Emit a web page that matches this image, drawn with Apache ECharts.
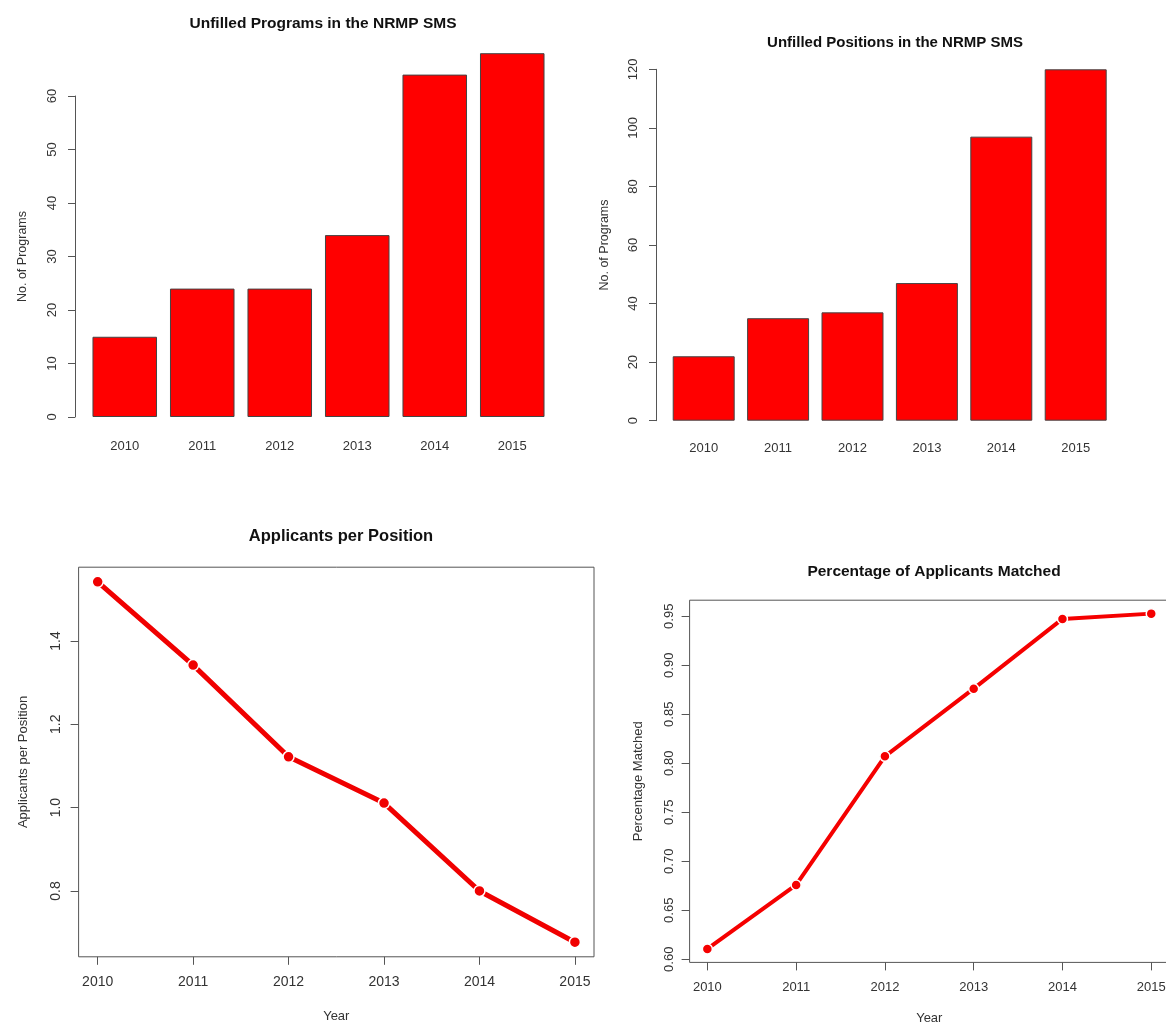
<!DOCTYPE html>
<html>
<head>
<meta charset="utf-8">
<script src="https://cdn.jsdelivr.net/npm/echarts@6/dist/echarts.min.js"></script>
<style>
  html, body { margin: 0; padding: 0; background: #fff; }
  #chart { width: 1166px; height: 1022px; }
</style>
</head>
<body>
<div id="chart"></div>
<script>
// ---- data ----
const yearLabels = ['2010', '2011', '2012', '2013', '2014', '2015'];
const yearNums = [2010, 2011, 2012, 2013, 2014, 2015];
const unfilledPrograms = [15, 24, 24, 34, 64, 68];
const unfilledPositions = [22, 35, 37, 47, 97, 120];
const applicantsPerPosition = [1.542, 1.342, 1.122, 1.011, 0.800, 0.677];
const pctMatched = [0.6105, 0.6758, 0.8071, 0.8761, 0.9473, 0.9527];
const appTicks = [0.8, 1.0, 1.2, 1.4];
const pctTicks = [0.60, 0.65, 0.70, 0.75, 0.80, 0.85, 0.90, 0.95];

const FONT = 'Liberation Sans, Arial, sans-serif';
const AX = '#555';
const LBL = '#333';

function pairs(xs, ys) { return xs.map((x, i) => [x, ys[i]]); }

const chart = echarts.init(document.getElementById('chart'), null, { renderer: 'canvas' });

const titleStyle = (size) => ({ fontFamily: FONT, fontWeight: 'bold', fontSize: size, color: '#111' });

const barYAxis = (gridIndex, max, interval, name, offset, margin, gap) => ({
  type: 'value', gridIndex, min: 0, max, interval,
  offset,
  axisLine: { show: true, lineStyle: { color: AX, width: 1 } },
  axisTick: { show: true, length: 7, lineStyle: { color: AX } },
  splitLine: { show: false },
  axisLabel: { rotate: 90, margin, fontFamily: FONT, fontSize: 13, color: LBL },
  name, nameLocation: 'middle', nameRotate: 90, nameGap: gap,
  nameTextStyle: { fontFamily: FONT, fontSize: 12.5, color: LBL }
});

const barXAxis = (gridIndex, margin) => ({
  type: 'category', gridIndex, data: yearLabels,
  axisLine: { show: false }, axisTick: { show: false },
  axisLabel: { margin, fontFamily: FONT, fontSize: 13, color: LBL }
});

const lineXAxis = (gridIndex, fs, margin, gap) => ({
  type: 'value', gridIndex, min: 2009.8, max: 2015.2,
  axisLine: { show: false },
  axisTick: { show: true, length: 8, lineStyle: { color: AX }, customValues: yearNums },
  axisLabel: { margin, fontFamily: FONT, fontSize: fs, color: LBL, customValues: yearNums,
               formatter: v => String(Math.round(v)) },
  splitLine: { show: false },
  name: 'Year', nameLocation: 'middle', nameGap: gap,
  nameTextStyle: { fontFamily: FONT, fontSize: 13, color: LBL }
});

const lineYAxis = (gridIndex, min, max, ticks, digits, name, fs, margin, gap) => ({
  type: 'value', gridIndex, min, max,
  axisLine: { show: false },
  axisTick: { show: true, length: 8, lineStyle: { color: AX }, customValues: ticks },
  axisLabel: { rotate: 90, margin, fontFamily: FONT, fontSize: fs, color: LBL, customValues: ticks,
               formatter: v => v.toFixed(digits) },
  splitLine: { show: false },
  name, nameLocation: 'middle', nameRotate: 90, nameGap: gap,
  nameTextStyle: { fontFamily: FONT, fontSize: 13, color: LBL }
});

const option = {
  animation: false,
  backgroundColor: '#fff',
  title: [
    { text: 'Unfilled Programs in the NRMP SMS', left: 318, top: 11, textAlign: 'center', textStyle: titleStyle(15.5) },
    { text: 'Unfilled Positions in the NRMP SMS', left: 890, top: 30, textAlign: 'center', textStyle: titleStyle(15) },
    { text: 'Applicants per Position', left: 336, top: 523, textAlign: 'center', textStyle: titleStyle(16.5) },
    { text: 'Percentage of Applicants Matched', left: 929, top: 559, textAlign: 'center', textStyle: titleStyle(15.5) }
  ],
  grid: [
    { left: 86, top: 96, width: 465, height: 321, outerBoundsMode: 'none', containLabel: false },
    { left: 666.5, top: 69.3, width: 446.4, height: 351.4, outerBoundsMode: 'none', containLabel: false },
    { left: 78.6, top: 567.2, width: 515.4, height: 389.6, show: true, borderColor: AX, borderWidth: 1, backgroundColor: 'transparent', outerBoundsMode: 'none', containLabel: false },
    { left: 689.6, top: 600.2, width: 479.4, height: 362.2, show: true, borderColor: AX, borderWidth: 1, backgroundColor: 'transparent', outerBoundsMode: 'none', containLabel: false }
  ],
  xAxis: [
    barXAxis(0, 23),
    barXAxis(1, 21),
    lineXAxis(2, 14, 18, 53),
    lineXAxis(3, 13, 19, 50)
  ],
  yAxis: [
    barYAxis(0, 60, 10, 'No. of Programs', 11, 16, 46),
    barYAxis(1, 120, 20, 'No. of Programs', 10.5, 16, 45),
    lineYAxis(2, 0.642, 1.577, appTicks, 1, 'Applicants per Position', 14, 15, 49),
    lineYAxis(3, 0.5968, 0.9664, pctTicks, 2, 'Percentage Matched', 13, 14, 45)
  ],
  series: [
    { type: 'bar', xAxisIndex: 0, yAxisIndex: 0, data: unfilledPrograms, clip: false,
      barCategoryGap: '16.7%', itemStyle: { color: '#ff0000', borderColor: '#444', borderWidth: 1 } },
    { type: 'bar', xAxisIndex: 1, yAxisIndex: 1, data: unfilledPositions, clip: false,
      barCategoryGap: '16.7%', itemStyle: { color: '#ff0000', borderColor: '#444', borderWidth: 1 } },
    { type: 'line', xAxisIndex: 2, yAxisIndex: 2, data: pairs(yearNums, applicantsPerPosition),
      symbol: 'circle', symbolSize: 11, lineStyle: { color: '#f00000', width: 5 },
      itemStyle: { color: '#f00000', borderColor: '#fff', borderWidth: 1.5 } },
    { type: 'line', xAxisIndex: 3, yAxisIndex: 3, data: pairs(yearNums, pctMatched),
      symbol: 'circle', symbolSize: 10, lineStyle: { color: '#f50000', width: 4 },
      itemStyle: { color: '#f50000', borderColor: '#fff', borderWidth: 1.5 } }
  ]
};

chart.setOption(option);
</script>
</body>
</html>
